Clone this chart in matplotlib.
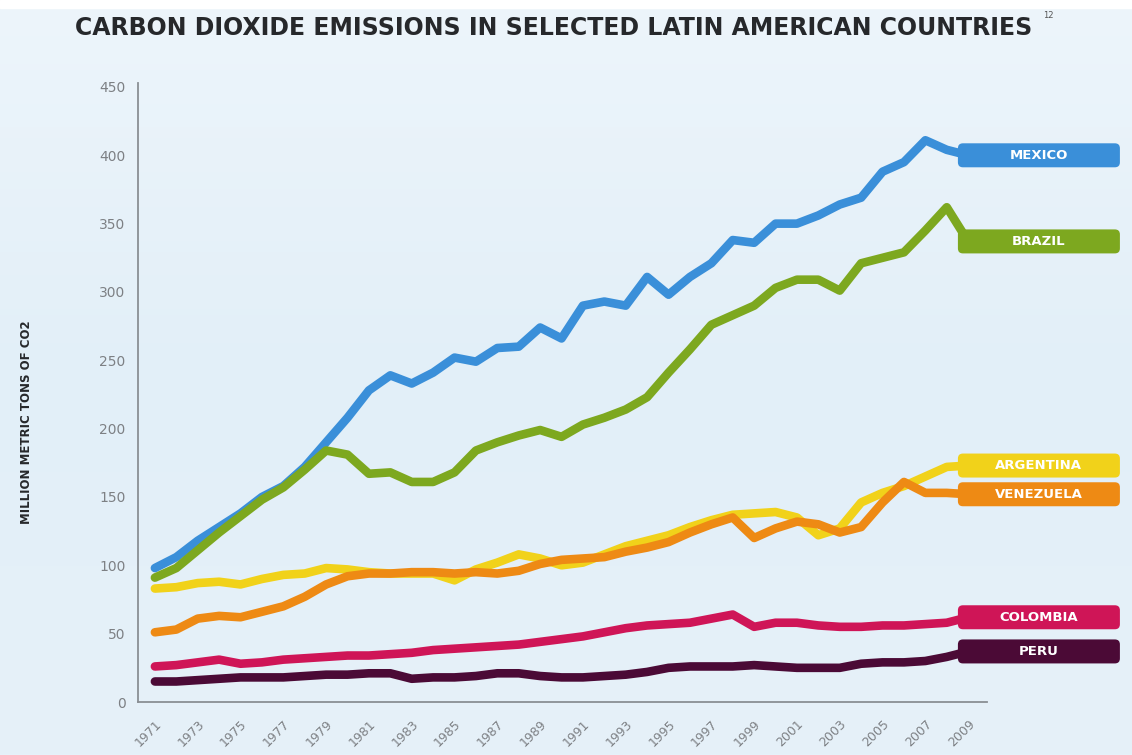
import matplotlib
matplotlib.use("Agg")
import matplotlib.pyplot as plt
import numpy as np
from matplotlib.patches import FancyBboxPatch

years = list(range(1971, 2010))

mexico = [98, 106, 118, 128, 138, 150, 158, 172, 190, 208,
          228, 239, 233, 241, 252, 249, 259, 260, 274, 266,
          290, 293, 290, 311, 298, 311, 321, 338, 336, 350,
          350, 356, 364, 369, 388, 395, 411, 404, 400]
brazil = [91, 98, 111, 124, 136, 148, 157, 170, 184, 181,
          167, 168, 161, 161, 168, 184, 190, 195, 199, 194,
          203, 208, 214, 223, 241, 258, 276, 283, 290, 303,
          309, 309, 301, 321, 325, 329, 345, 362, 337]
argentina = [83, 84, 87, 88, 86, 90, 93, 94, 98, 97,
             95, 94, 94, 94, 89, 97, 102, 108, 105, 100,
             102, 108, 114, 118, 122, 128, 133, 137, 138, 139,
             135, 122, 127, 146, 153, 158, 165, 172, 173]
venezuela = [51, 53, 61, 63, 62, 66, 70, 77, 86, 92,
             94, 94, 95, 95, 94, 95, 94, 96, 101, 104,
             105, 106, 110, 113, 117, 124, 130, 135, 120, 127,
             132, 130, 124, 128, 146, 161, 153, 153, 152]
colombia = [26, 27, 29, 31, 28, 29, 31, 32, 33, 34,
            34, 35, 36, 38, 39, 40, 41, 42, 44, 46,
            48, 51, 54, 56, 57, 58, 61, 64, 55, 58,
            58, 56, 55, 55, 56, 56, 57, 58, 62]
peru = [15, 15, 16, 17, 18, 18, 18, 19, 20, 20,
        21, 21, 17, 18, 18, 19, 21, 21, 19, 18,
        18, 19, 20, 22, 25, 26, 26, 26, 27, 26,
        25, 25, 25, 28, 29, 29, 30, 33, 37]

series = [
    ("ARGENTINA", argentina, "#f1d21a"),
    ("VENEZUELA", venezuela, "#ee8a14"),
    ("MEXICO", mexico, "#3a8fd9"),
    ("BRAZIL", brazil, "#7da81f"),
    ("COLOMBIA", colombia, "#cf1557"),
    ("PERU", peru, "#4b0a36"),
]

tick_years = list(range(1971, 2010, 2))

W, H = 1132, 755
fig = plt.figure(figsize=(W / 100, H / 100), dpi=100)

# soft blue background, white strip on top
bg = fig.add_axes([0, 0, 1, 1], zorder=-10)
grad = np.linspace(0, 1, 256).reshape(-1, 1)
bg.imshow(grad, aspect="auto", cmap=matplotlib.colors.LinearSegmentedColormap.from_list(
    "bg", ["#edf5fb", "#e2eff8", "#e6f1f9"]), extent=[0, 1, 0, 1])
bg.axhspan(1 - 8 / H, 1, color="white")
bg.set_xlim(0, 1)
bg.set_ylim(0, 1)
bg.axis("off")

left, right, top, bottom = 138, 987, 83, 702
ax = fig.add_axes([left / W, 1 - bottom / H, (right - left) / W, (bottom - top) / H])
ax.patch.set_alpha(0)

for name, vals, col in series:
    ax.plot(years, vals, color=col, lw=6.2, solid_joinstyle="round",
            solid_capstyle="round", clip_on=False)

ax.set_xlim(1970.21, 2009.88)
ax.set_ylim(0, 452.9)
ax.set_yticks(range(0, 451, 50))
ax.set_xticks(tick_years)
ax.set_xticklabels([str(y) for y in tick_years], rotation=45, ha="right",
                   va="top", rotation_mode="anchor")
for s in ["top", "right"]:
    ax.spines[s].set_visible(False)
for s in ["left", "bottom"]:
    ax.spines[s].set_color("#8a8f94")
    ax.spines[s].set_linewidth(1.3)
ax.tick_params(axis="y", length=0, pad=9, labelsize=10, labelcolor="#7d8084")
ax.tick_params(axis="x", length=0, pad=11, labelsize=9, labelcolor="#7d8084")

# label boxes at end of lines
px_x = (right - left) / (2009.88 - 1970.21)
px_y = (bottom - top) / 452.9
box_x0 = 1971 + (958 - 155) / px_x
box_w = (1120 - 958) / px_x
box_h = 24 / px_y
for name, vals, col in series:
    y = vals[-1]
    p = FancyBboxPatch((box_x0, y - box_h / 2), box_w, box_h,
                       boxstyle="round,pad=0,rounding_size=%f" % (5 / px_x),
                       mutation_aspect=px_x / px_y,
                       fc=col, ec="none", clip_on=False, zorder=5)
    ax.add_patch(p)
    ax.text(box_x0 + box_w / 2, y, name, color="white", fontsize=9.5,
            fontweight="bold", ha="center", va="center", zorder=6,
            clip_on=False)

fig.text(75 / W, 1 - 28 / H, "CARBON DIOXIDE EMISSIONS IN SELECTED LATIN AMERICAN COUNTRIES",
         fontsize=17, fontweight="bold", color="#26282b", ha="left", va="center",
         family="DejaVu Sans")
fig.text(1043 / W, 1 - 16 / H, "12", fontsize=6, color="#555555", ha="left",
         va="center")
fig.text(27 / W, 1 - 422 / H, "MILLION METRIC TONS OF CO2", rotation=90,
         fontsize=8.5, fontweight="bold", color="#26282b", ha="center", va="center")

fig.savefig("out.png", dpi=100)
